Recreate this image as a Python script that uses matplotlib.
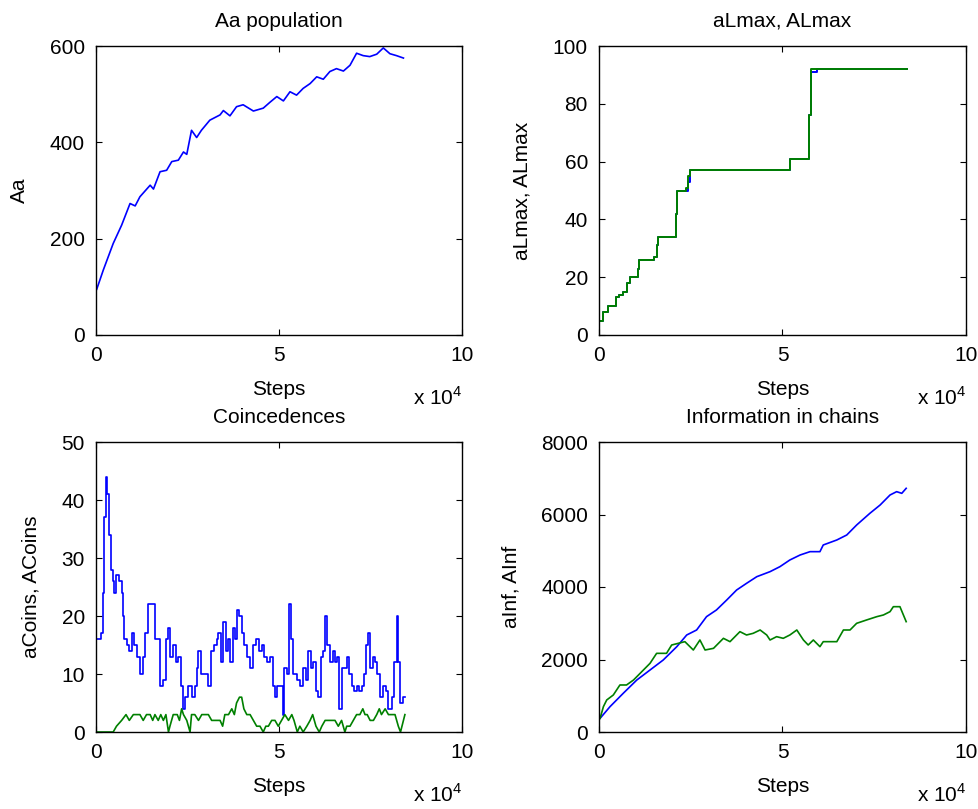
import matplotlib
matplotlib.use('Agg')
import matplotlib.pyplot as plt

plt.rcParams['font.family'] = ['Liberation Sans', 'DejaVu Sans']
plt.rcParams['mathtext.fontset'] = 'custom'
plt.rcParams['mathtext.rm'] = 'Liberation Sans'

BLUE = '#0000ff'
GREEN = '#008000'

# ---- data (steps in units of 1e4) ----
aa_steps = [0.02, 0.2, 0.47, 0.70, 0.93, 1.07, 1.2, 1.48, 1.57, 1.75, 1.93, 2.07, 2.25, 2.39,
            2.48, 2.61, 2.75, 2.88, 3.11, 3.39, 3.48, 3.66, 3.84, 4.02, 4.30, 4.57, 4.75,
            4.94, 5.12, 5.30, 5.48, 5.66, 5.85, 6.03, 6.21, 6.39, 6.57, 6.76, 6.94, 7.12,
            7.30, 7.48, 7.67, 7.85, 8.03, 8.21, 8.40]
aa_pop = [95, 135, 190, 228, 273, 268, 287, 311, 303, 339, 342, 360, 363, 380,
          375, 425, 410, 425, 446, 457, 466, 455, 474, 478, 465, 471, 483,
          495, 486, 505, 498, 512, 522, 536, 531, 547, 553, 548, 560, 585,
          580, 578, 583, 596, 584, 580, 575]

lmax_steps = [0, 0.1, 0.25, 0.45, 0.55, 0.65, 0.75, 0.85, 1.05, 1.1, 1.5, 1.57, 1.62, 2.1,
              2.13, 2.37, 2.42, 2.47, 5.1, 5.2, 5.72, 5.77, 5.95, 8.4]
aLmax = [5, 8, 10, 13, 14, 15, 18, 20, 23, 26, 27, 31, 34, 42,
         50, 50, 53, 57, 57, 61, 76, 91, 92, 92]
ALmax = [5, 8, 10, 13, 14, 15, 18, 20, 23, 26, 27, 31, 34, 42,
         50, 51, 55, 57, 57, 61, 76, 92, 92, 92]

acoins_steps = [0.02, 0.15, 0.18, 0.22, 0.27, 0.31, 0.36, 0.40, 0.46, 0.49, 0.55, 0.64, 0.70,
                0.73, 0.77, 0.84, 0.91, 0.97, 1.04, 1.11, 1.20, 1.28, 1.34, 1.43, 1.55, 1.61,
                1.75, 1.84, 1.91, 1.98, 2.02, 2.11, 2.19, 2.25, 2.31, 2.37, 2.43, 2.52, 2.61,
                2.70, 2.77, 2.80, 2.86, 3.07, 3.13, 3.22, 3.30, 3.34, 3.41, 3.48, 3.55, 3.62,
                3.66, 3.73, 3.80, 3.86, 3.92, 3.98, 4.04, 4.12, 4.21, 4.30, 4.37, 4.44, 4.53,
                4.59, 4.66, 4.75, 4.83, 4.90, 4.95, 5.03, 5.10, 5.15, 5.21, 5.28, 5.32, 5.39,
                5.48, 5.57, 5.66, 5.74, 5.80, 5.87, 5.94, 6.01, 6.07, 6.14, 6.21, 6.26, 6.32,
                6.39, 6.47, 6.53, 6.59, 6.65, 6.71, 6.78, 6.85, 6.92, 6.99, 7.05, 7.12, 7.19,
                7.26, 7.32, 7.38, 7.43, 7.49, 7.56, 7.62, 7.69, 7.76, 7.83, 7.92, 7.99, 8.08,
                8.14, 8.22, 8.26, 8.31, 8.40, 8.44]
acoins = [16, 17, 24, 37, 44, 41, 34, 28, 26, 24, 27, 26, 24,
          20, 16, 15, 14, 17, 15, 13, 10, 13, 17, 22, 22, 16,
          8, 9, 16, 18, 13, 15, 12, 13, 8, 4, 6, 8, 6,
          8, 11, 14, 10, 8, 14, 15, 16, 17, 12, 19, 14, 16,
          12, 18, 16, 21, 20, 17, 15, 13, 11, 15, 16, 14, 15,
          13, 12, 13, 8, 6, 8, 8, 3, 11, 10, 22, 16, 10,
          9, 8, 11, 9, 14, 11, 12, 7, 6, 13, 14, 20, 15,
          12, 14, 12, 13, 4, 11, 11, 13, 10, 8, 7, 8, 7,
          8, 10, 15, 17, 11, 13, 12, 10, 6, 8, 7, 4, 6,
          12, 20, 12, 5, 6, 6]

Acoins_steps = [0.02, 0.47, 0.56, 0.70, 0.82, 0.91, 1.02, 1.11, 1.20, 1.29, 1.38, 1.48, 1.55,
                1.61, 1.70, 1.77, 1.84, 1.91, 1.98, 2.02, 2.11, 2.22, 2.28, 2.34, 2.39, 2.48,
                2.57, 2.61, 2.70, 2.80, 2.89, 2.98, 3.07, 3.16, 3.25, 3.39, 3.46, 3.52, 3.62,
                3.71, 3.78, 3.84, 3.92, 3.98, 4.04, 4.12, 4.21, 4.30, 4.39, 4.48, 4.57, 4.64,
                4.71, 4.80, 4.89, 4.98, 5.07, 5.16, 5.26, 5.35, 5.41, 5.50, 5.57, 5.66, 5.76,
                5.85, 5.92, 6.01, 6.10, 6.17, 6.26, 6.35, 6.44, 6.53, 6.62, 6.71, 6.80, 6.85,
                6.94, 7.03, 7.12, 7.21, 7.29, 7.35, 7.41, 7.49, 7.58, 7.67, 7.74, 7.80, 7.90,
                7.99, 8.08, 8.17, 8.26, 8.32, 8.40, 8.44]
Acoins = [0, 0, 1, 2, 3, 2, 3, 3, 3, 2, 3, 3, 2,
          3, 2, 3, 2, 3, 0, 1, 3, 3, 2, 4, 3, 2,
          0, 3, 3, 2, 3, 3, 3, 2, 2, 2, 1, 3, 3,
          4, 3, 5, 6, 6, 4, 3, 3, 2, 1, 1, 0, 1,
          1, 2, 2, 1, 2, 3, 2, 3, 2, 0, 1, 0, 1,
          2, 3, 1, 0, 1, 2, 2, 2, 2, 1, 2, 0, 1,
          1, 2, 3, 3, 4, 3, 3, 2, 2, 3, 4, 3, 4,
          3, 3, 3, 1, 0, 2, 3]

ainf_steps = [0.03, 0.3, 0.66, 1.03, 1.39, 1.75, 2.12, 2.39, 2.66, 2.93, 3.2, 3.48, 3.75,
              4.02, 4.3, 4.66, 4.93, 5.2, 5.48, 5.75, 6.02, 6.11, 6.48, 6.75, 7.02, 7.38,
              7.66, 7.93, 8.11, 8.25, 8.37]
ainf = [377, 699, 1067, 1434, 1710, 1986, 2354, 2676, 2814, 3182, 3366, 3641, 3917,
        4101, 4285, 4423, 4561, 4745, 4883, 4975, 4975, 5159, 5297, 5434, 5710, 6032,
        6262, 6538, 6630, 6584, 6722]

Ainf_steps = [0.03, 0.12, 0.21, 0.39, 0.57, 0.75, 0.94, 1.21, 1.39, 1.57, 1.84, 1.98, 2.16,
              2.34, 2.57, 2.75, 2.89, 3.12, 3.39, 3.57, 3.84, 4.02, 4.2, 4.39, 4.57, 4.66,
              4.84, 5.02, 5.2, 5.39, 5.57, 5.7, 5.84, 6.02, 6.11, 6.48, 6.66, 6.84, 7.02,
              7.29, 7.57, 7.75, 7.93, 8.02, 8.2, 8.37]
Ainf = [377, 699, 883, 1021, 1297, 1297, 1434, 1710, 1894, 2170, 2170, 2400, 2446,
        2492, 2262, 2538, 2262, 2308, 2584, 2492, 2768, 2676, 2722, 2814, 2676, 2538,
        2630, 2584, 2676, 2814, 2538, 2400, 2538, 2354, 2492, 2492, 2814, 2814, 2998,
        3090, 3182, 3228, 3320, 3457, 3457, 3044]

fig = plt.figure(figsize=(9.79, 8.09), dpi=100)
fig.patch.set_facecolor('white')

W, H = 979, 809


def make_axes(left, top, right, bottom):
    return fig.add_axes([left / W, 1 - bottom / H, (right - left) / W, (bottom - top) / H])


def style(ax, title, ylabel, ylim, yticks):
    ax.set_xlim(0, 10)
    ax.set_ylim(*ylim)
    ax.set_xticks([0, 5, 10])
    ax.set_yticks(yticks)
    ax.tick_params(direction='in', top=True, right=True, length=4, width=0.8,
                   labelsize=15, pad=8)
    for sp in ax.spines.values():
        sp.set_linewidth(1.0)
    ax.set_title(title, fontsize=15, pad=14)
    ax.set_xlabel('Steps', fontsize=15, labelpad=11)
    ax.set_ylabel(ylabel, fontsize=15, labelpad=15)
    ax.text(1.0, -0.215, r'x 10$^{4}$', transform=ax.transAxes, ha='right', va='center',
            fontsize=15)


ax1 = make_axes(96, 46, 462, 335)
ax1.plot(aa_steps, aa_pop, color=BLUE, lw=1.2)
style(ax1, 'Aa population', 'Aa', (0, 600), [0, 200, 400, 600])

ax2 = make_axes(599, 46, 966, 335)
ax2.plot(lmax_steps, aLmax, color=BLUE, lw=1.4, drawstyle='steps-post')
ax2.plot(lmax_steps, ALmax, color=GREEN, lw=1.4, drawstyle='steps-post')
style(ax2, 'aLmax, ALmax', 'aLmax, ALmax', (0, 100), [0, 20, 40, 60, 80, 100])

ax3 = make_axes(96, 442, 462, 732)
ax3.plot(acoins_steps, acoins, color=BLUE, lw=1.2, drawstyle='steps-post')
ax3.plot(Acoins_steps, Acoins, color=GREEN, lw=1.2)
style(ax3, 'Coincedences', 'aCoins, ACoins', (0, 50), [0, 10, 20, 30, 40, 50])

ax4 = make_axes(599, 442, 966, 732)
ax4.plot(ainf_steps, ainf, color=BLUE, lw=1.2)
ax4.plot(Ainf_steps, Ainf, color=GREEN, lw=1.2)
style(ax4, 'Information in chains', 'aInf, AInf', (0, 8000), [0, 2000, 4000, 6000, 8000])

fig.savefig('out.png', dpi=100, facecolor='white')
